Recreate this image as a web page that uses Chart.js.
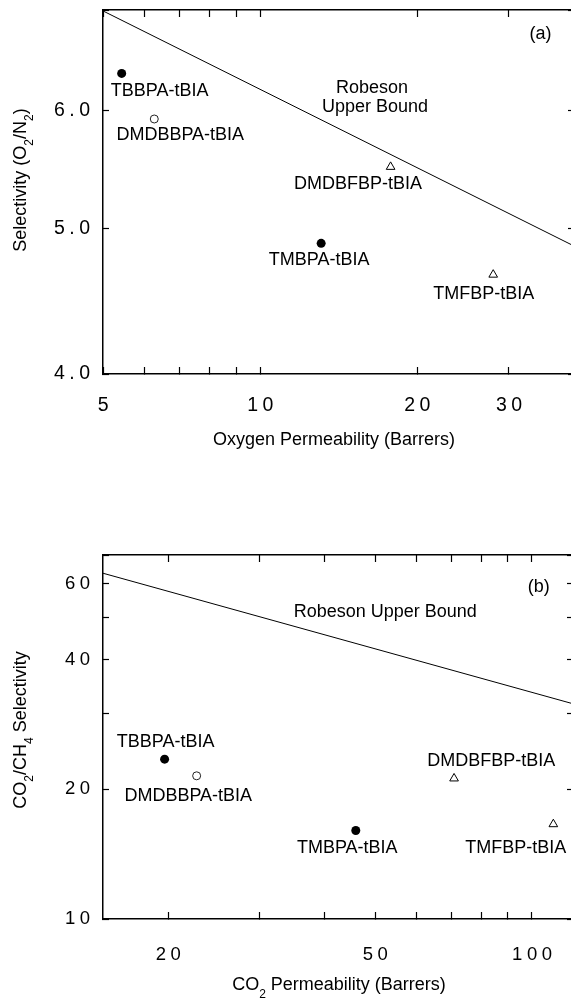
<!DOCTYPE html>
<html>
<head>
<meta charset="utf-8">
<title>Gas separation performance of tBIA polyarylates</title>
<script src="https://cdn.jsdelivr.net/npm/chart.js@4.4.1/dist/chart.umd.min.js"></script>
<style>
  html, body { margin: 0; padding: 0; background: #fff; overflow: hidden; }
  canvas { position: absolute; left: 0; }
  #o2Chart { top: 0; }
  #co2Chart { top: 500px; }
</style>
</head>
<body>
<canvas id="o2Chart" width="600" height="470"></canvas>
<canvas id="co2Chart" width="600" height="498"></canvas>
<script>
// ===== Data =====
const polymers = ['TBBPA-tBIA', 'DMDBBPA-tBIA', 'TMBPA-tBIA', 'DMDBFBP-tBIA', 'TMFBP-tBIA'];

// (a) oxygen / nitrogen
const o2Permeability = [5.43, 6.27, 13.1, 17.8, 28.0];
const o2n2Selectivity = [6.35, 5.92, 4.89, 5.50, 4.66];
const o2BoundPermeability = [5, 40];
const o2BoundSelectivity = [6.99, 4.87];

// (b) carbon dioxide / methane
const co2Permeability = [19.7, 22.7, 45.9, 70.9, 110];
const co2ch4Selectivity = [23.5, 21.5, 16.05, 21.2, 16.6];
const co2BoundPermeability = [15, 120];
const co2BoundSelectivity = [63.5, 31.6];

// tick marks, and the ones that get a number
const o2PermTicks = [5, 6, 7, 8, 9, 10, 20, 30, 40];
const o2PermLabels = [5, 10, 20, 30];
const o2n2Ticks = [4, 5, 6, 7];
const o2n2Labels = [4, 5, 6];
const co2PermTicks = [20, 30, 40, 50, 60, 70, 80, 90, 100];
const co2PermLabels = [20, 50, 100];
const co2ch4Ticks = [10, 20, 30, 40, 50, 60, 70];
const co2ch4Labels = [10, 20, 40, 60];

// ===== Styles & layout =====
const FONT = "'Liberation Sans', Arial, Helvetica, sans-serif";
Chart.defaults.font.family = FONT;
Chart.defaults.color = '#000';

const markerStyle = {
    'TBBPA-tBIA': 'filled',
    'DMDBBPA-tBIA': 'open',
    'TMBPA-tBIA': 'filled',
    'DMDBFBP-tBIA': 'triangle',
    'TMFBP-tBIA': 'triangle'
};

const markers = {
    filled: { pointStyle: 'circle', pointRadius: 4.5, pointBackgroundColor: '#000', pointBorderColor: '#000', pointBorderWidth: 0 },
    open: { pointStyle: 'circle', pointRadius: 4, pointBackgroundColor: '#fff', pointBorderColor: '#222', pointBorderWidth: 1 },
    triangle: { pointStyle: 'triangle', pointRadius: 5, pointBackgroundColor: '#fff', pointBorderColor: '#000', pointBorderWidth: 1 }
};

// where each name sits relative to its marker (px)
const o2LabelOffset = {
    'TBBPA-tBIA': [38, 17.5],
    'DMDBBPA-tBIA': [26, 16.5],
    'TMBPA-tBIA': [-2, 17],
    'DMDBFBP-tBIA': [-32.5, 17],
    'TMFBP-tBIA': [-9.5, 19.5]
};
const co2LabelOffset = {
    'TBBPA-tBIA': [1, -17.6],
    'DMDBBPA-tBIA': [-8.4, 20.7],
    'TMBPA-tBIA': [-8.5, 17.6],
    'DMDBFBP-tBIA': [37.3, -17.5],
    'TMFBP-tBIA': [-37.5, 23.8]
};

// text drawn on top of each chart
const panelExtras = {
    o2Chart: {
        perm: o2Permeability,
        sel: o2n2Selectivity,
        offsets: o2LabelOffset,
        notes: [['Robeson', 372, 88.3], ['Upper Bound', 375, 106.7], ['(a)', 540.5, 34.5]],
        xTitle: { parts: [['Oxygen Permeability (Barrers)', 0]], x: 334, y: 444.5 },
        yTitle: { parts: [['Selectivity (O', 0], ['2', 1], ['/N', 0], ['2', 1], [')', 0]], x: 26, y: 180 }
    },
    co2Chart: {
        perm: co2Permeability,
        sel: co2ch4Selectivity,
        offsets: co2LabelOffset,
        notes: [['Robeson Upper Bound', 385.3, 111.7], ['(b)', 538.7, 86.7]],
        xTitle: { parts: [['CO', 0], ['2', 1], [' Permeability (Barrers)', 0]], x: 339, y: 489.5 },
        yTitle: { parts: [['CO', 0], ['2', 1], ['/CH', 0], ['4', 1], [' Selectivity', 0]], x: 26, y: 230 }
    }
};

// ===== Helpers =====
function logAxis(position, range, tickValues, labelValues, format, size, tickFont) {
    const horizontal = position === 'top' || position === 'bottom';
    return {
        type: 'logarithmic',
        position: position,
        min: range[0],
        max: range[1],
        afterBuildTicks: scale => { scale.ticks = tickValues.map(v => ({ value: v })); },
        afterFit: scale => {
            if (horizontal) scale.height = size; else scale.width = size;
            scale.paddingTop = scale.paddingBottom = scale.paddingLeft = scale.paddingRight = 0;
        },
        // negative tick length puts the marks inside the frame
        grid: { drawOnChartArea: false, drawTicks: true, tickLength: horizontal ? -7 : -6, tickColor: '#000', tickWidth: 1.2 },
        border: { display: true, color: '#000', width: 1.5 },
        ticks: {
            display: !!labelValues,
            autoSkip: false,
            maxRotation: 0,
            z: horizontal ? 1 : 0,
            padding: tickFont ? tickFont.padding : 0,
            font: { size: tickFont ? tickFont.size : 12 },
            color: '#000',
            callback: value => (labelValues && labelValues.includes(value)) ? format(value) : ''
        }
    };
}

function boundSet(perm, sel) {
    return {
        data: perm.map((p, i) => ({ x: p, y: sel[i] })),
        showLine: true,
        borderColor: '#000',
        borderWidth: 1,
        pointRadius: 0
    };
}

function markerSets(perm, sel) {
    return Object.keys(markers).map(kind => {
        const idx = polymers.map((p, i) => i).filter(i => markerStyle[polymers[i]] === kind);
        return Object.assign({ data: idx.map(i => ({ x: perm[i], y: sel[i] })) }, markers[kind]);
    });
}

function drawRich(ctx, parts, x, y, rotate, subDrop) {
    const font = sub => sub ? `12px ${FONT}` : `18px ${FONT}`;
    ctx.save();
    ctx.translate(x, y);
    if (rotate) ctx.rotate(-Math.PI / 2);
    const widths = parts.map(([t, sub]) => { ctx.font = font(sub); return ctx.measureText(t).width; });
    let cx = -widths.reduce((a, b) => a + b, 0) / 2;
    ctx.textAlign = 'left';
    ctx.textBaseline = 'alphabetic';
    ctx.fillStyle = '#000';
    parts.forEach(([t, sub], i) => {
        ctx.font = font(sub);
        ctx.fillText(t, cx, sub ? subDrop : 0);
        cx += widths[i];
    });
    ctx.restore();
}

const panelText = {
    id: 'panelText',
    beforeDraw(chart) {
        // the tick numbers are set with wide letter spacing
        chart.ctx.letterSpacing = '4.5px';
    },
    afterDatasetsDraw(chart) {
        // x tick numbers come next (ticks.z = 1); nudge them back onto their ticks
        chart.ctx.save();
        chart.ctx.translate(2.5, 0);
    },
    afterDraw(chart) {
        const ctx = chart.ctx;
        ctx.restore();
        const extra = panelExtras[chart.canvas.id];
        const xs = chart.scales.x;
        const ys = chart.scales.y;

        ctx.save();
        ctx.letterSpacing = '0px';
        ctx.fillStyle = '#000';
        ctx.font = `18px ${FONT}`;
        ctx.textAlign = 'center';
        ctx.textBaseline = 'middle';

        polymers.forEach((name, i) => {
            const [dx, dy] = extra.offsets[name];
            ctx.fillText(name, xs.getPixelForValue(extra.perm[i]) + dx, ys.getPixelForValue(extra.sel[i]) + dy);
        });
        extra.notes.forEach(([text, x, y]) => ctx.fillText(text, x, y));

        drawRich(ctx, extra.xTitle.parts, extra.xTitle.x, extra.xTitle.y, false, 8);
        drawRich(ctx, extra.yTitle.parts, extra.yTitle.x, extra.yTitle.y, true, 7);
        ctx.restore();
    }
};

function baseOptions(scales) {
    return {
        responsive: false,
        maintainAspectRatio: false,
        animation: false,
        events: [],
        layout: { padding: 0 },
        scales: scales,
        plugins: { legend: { display: false }, tooltip: { enabled: false } }
    };
}

// ===== (a) O2/N2 =====
new Chart(document.getElementById('o2Chart'), {
    type: 'scatter',
    data: {
        datasets: [boundSet(o2BoundPermeability, o2BoundSelectivity), ...markerSets(o2Permeability, o2n2Selectivity)]
    },
    options: baseOptions({
        x: logAxis('bottom', [5, 40], o2PermTicks, o2PermLabels, v => String(v), 96, { size: 19.5, padding: 27.3 }),
        x2: logAxis('top', [5, 40], o2PermTicks, null, null, 10),
        y: logAxis('left', [4, 7], o2n2Ticks, o2n2Labels, v => v.toFixed(1), 103, { size: 19.5, padding: 14.5 }),
        y2: logAxis('right', [4, 7], o2n2Ticks, null, null, 26)
    }),
    plugins: [panelText]
});

// ===== (b) CO2/CH4 =====
new Chart(document.getElementById('co2Chart'), {
    type: 'scatter',
    data: {
        datasets: [boundSet(co2BoundPermeability, co2BoundSelectivity), ...markerSets(co2Permeability, co2ch4Selectivity)]
    },
    options: baseOptions({
        x: logAxis('bottom', [15, 120], co2PermTicks, co2PermLabels, v => String(v), 79, { size: 18.5, padding: 31.9 }),
        x2: logAxis('top', [15, 120], co2PermTicks, null, null, 55),
        y: logAxis('left', [10, 70], co2ch4Ticks, co2ch4Labels, v => String(v), 103, { size: 18.5, padding: 14.5 }),
        y2: logAxis('right', [10, 70], co2ch4Ticks, null, null, 27)
    }),
    plugins: [panelText]
});
</script>
</body>
</html>
